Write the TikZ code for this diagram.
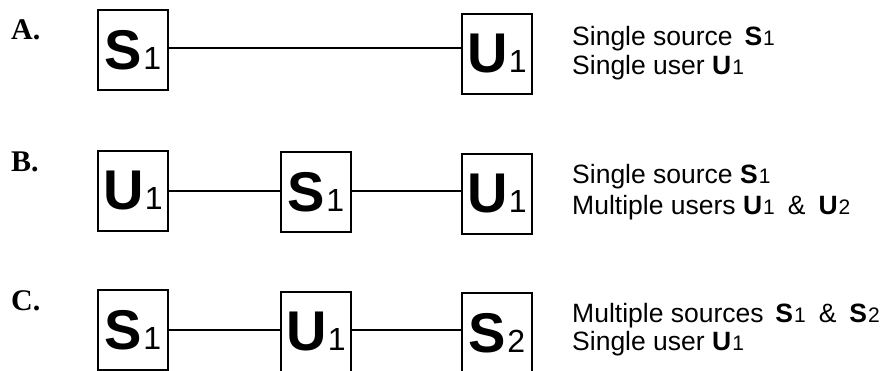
\documentclass[tikz,border=0pt]{standalone}
\usepackage{fontspec}
\setmainfont{Liberation Sans}
\newfontfamily\lblfont{Liberation Serif}
\begin{document}
\begin{tikzpicture}[x=1pt,y=-1pt,
  ent/.style={draw, line width=2.6pt, minimum width=70pt, minimum height=80pt, inner sep=0pt, font=\fontsize{56}{56}\selectfont\bfseries},
  conn/.style={line width=2.2pt},
  rowlbl/.style={anchor=west, inner sep=0pt, font=\lblfont\fontsize{30}{30}\selectfont\bfseries},
  desc/.style={anchor=base west, inner sep=0pt, font=\fontsize{26.5}{26.5}\selectfont}]
\useasboundingbox (0,0) rectangle (891,371);
\newcommand{\bx}[2]{\raisebox{-3pt}{#1\kern1pt{\fontsize{32}{32}\selectfont\mdseries #2}}}
\newcommand{\sm}[2]{\textbf{#1}\kern1pt{\fontsize{21}{21}\selectfont #2}}
\newcommand{\amp}{\hspace{13pt}\&\hspace{13pt}}
% row A
\node[rowlbl] (la) at (11,30) {A.};
\node[ent] (sa) at (133,50) {\bx{S}{1}};
\node[ent] (ua) at (497,54) {\bx{U}{1}};
\draw[conn] ([yshift=2pt]sa.east) -- ([yshift=2pt]sa.east -| ua.west);
\node[desc] (ta1) at (572,46) {Single source \,\sm{S}{1}};
\node[desc] (ta2) at (572,75) {Single user \sm{U}{1}};
% row B
\node[rowlbl] (lb) at (11,162) {B.};
\node[ent] (ub1) at (133,191) {\bx{U}{1}};
\node[ent] (sb) at (316,192) {\bx{S}{1}};
\node[ent] (ub2) at (497,194) {\bx{U}{1}};
\draw[conn] (ub1.east) -- (ub1.east -| sb.west);
\draw[conn] (ub1.east -| sb.east) -- (ub1.east -| ub2.west);
\node[desc] (tb1) at (572,184) {Single source \sm{S}{1}};
\node[desc] (tb2) at (572,215) {Multiple users \sm{U}{1}\amp\sm{U}{2}};
% row C
\node[rowlbl] (lc) at (11,301) {C.};
\node[ent] (sc1) at (133,330) {\bx{S}{1}};
\node[ent] (uc) at (316,332) {\bx{U}{1}};
\node[ent] (sc2) at (497,333) {\bx{S}{2}};
\draw[conn] (sc1.east) -- (sc1.east -| uc.west);
\draw[conn] (sc1.east -| uc.east) -- (sc1.east -| sc2.west);
\node[desc] (tc1) at (572,322) {Multiple sources \,\sm{S}{1}\amp\sm{S}{2}};
\node[desc] (tc2) at (572,350) {Single user \sm{U}{1}};
\end{tikzpicture}
\end{document}
